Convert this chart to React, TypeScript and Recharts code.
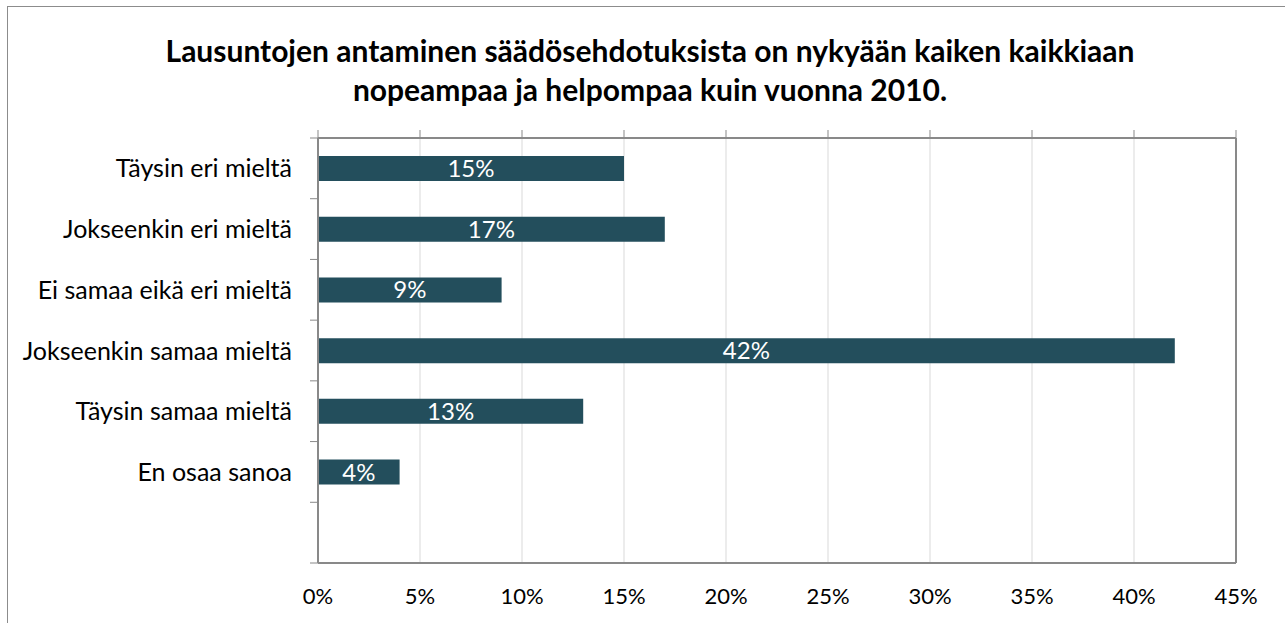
import React from 'react';
import {
	Bar,
	CartesianGrid,
	ComposedChart,
	LabelList,
	Line,
	ReferenceLine,
	XAxis,
	YAxis,
} from 'recharts';

const categories = [
	'Täysin eri mieltä',
	'Jokseenkin eri mieltä',
	'Ei samaa eikä eri mieltä',
	'Jokseenkin samaa mieltä',
	'Täysin samaa mieltä',
	'En osaa sanoa',
	'',
];
const shares = [15, 17, 9, 42, 13, 4, null];
const percentTicks = [0, 5, 10, 15, 20, 25, 30, 35, 40, 45];

const titleLines = [
	'Lausuntojen antaminen säädösehdotuksista on nykyään kaiken kaikkiaan',
	'nopeampaa ja helpompaa kuin vuonna 2010.',
];

const data = categories.map((name, i) => ({ name, value: shares[i] }));

const FONT = 'Lato, "Noto Sans", sans-serif';
const AXIS_GRAY = '#898989';
const CAT_MARGIN = 26;
const MARK = 8;

// draws only the tick line, no label
const NoLabel = () => <g />;

// category label plus Excel-style tick marks on the band edges
const CategoryTick = (props: any) => {
	const { x, y, payload, index } = props;
	const half = payload?.offset ?? 0;
	const axisX = x + CAT_MARGIN;
	const isLast = index === categories.length - 1;
	return (
		<g>
			<line
				x1={axisX - MARK}
				x2={axisX}
				y1={y - half}
				y2={y - half}
				stroke={AXIS_GRAY}
			/>
			{isLast && (
				<line
					x1={axisX - MARK}
					x2={axisX}
					y1={y + half}
					y2={y + half}
					stroke={AXIS_GRAY}
				/>
			)}
			<text
				x={x}
				y={y}
				dy="0.36em"
				textAnchor="end"
				fontSize={25}
				fontFamily={FONT}
				fill="#000">
				{payload.value}
			</text>
		</g>
	);
};

const App: React.FC = () => {
	return (
		<div
			style={{
				position: 'absolute',
				left: 7,
				top: 6,
				width: 1284,
				height: 640,
				border: '1px solid #8c8c8c',
				background: '#fff',
				fontFamily: FONT,
			}}>
			<div
				style={{
					position: 'absolute',
					top: 24,
					left: 0,
					width: '100%',
					textAlign: 'center',
					fontWeight: 700,
					fontSize: 30,
					lineHeight: '39px',
					color: '#000',
				}}>
				{titleLines.map((t) => (
					<div key={t}>{t}</div>
				))}
			</div>
			<div style={{ position: 'absolute', left: 0, top: 0 }}>
				<ComposedChart
					width={1277}
					height={616}
					data={data}
					layout="vertical"
					barCategoryGap={0}
					margin={{ top: 121, right: 49, left: 0, bottom: 10 }}>
					<CartesianGrid
						horizontal={false}
						stroke="#d9d9d9"
						strokeWidth={1}
					/>
					<XAxis
						type="number"
						domain={[0, 45]}
						ticks={percentTicks}
						tickFormatter={(v) => `${v}%`}
						axisLine={{ stroke: AXIS_GRAY, strokeWidth: 2 }}
						tickLine={false}
						tickSize={0}
						tickMargin={25}
						height={50}
						tick={{ fontSize: 22, fill: '#000', fontFamily: FONT }}
					/>
					<XAxis
						xAxisId="top"
						orientation="top"
						type="number"
						domain={[0, 45]}
						ticks={percentTicks}
						axisLine={{ stroke: AXIS_GRAY, strokeWidth: 2 }}
						tickLine={{ stroke: AXIS_GRAY, strokeWidth: 1 }}
						tickSize={MARK}
						tick={NoLabel}
						height={10}
					/>
					<YAxis
						type="category"
						dataKey="name"
						width={310}
						axisLine={{ stroke: AXIS_GRAY, strokeWidth: 2 }}
						tickLine={false}
						tickSize={0}
						tickMargin={CAT_MARGIN}
						interval={0}
						tick={CategoryTick}
					/>
					<ReferenceLine
						x={45}
						stroke={AXIS_GRAY}
						strokeWidth={2}
						ifOverflow="extendDomain"
					/>
					<Bar
						dataKey="value"
						barSize={25}
						fill="#234e5c"
						isAnimationActive={false}>
						<LabelList
							dataKey="value"
							position="center"
							formatter={(v: number) => (v == null ? '' : `${v}%`)}
							fill="#fff"
							style={{ fontSize: 24, fontFamily: FONT }}
						/>
					</Bar>
					{/* invisible series so the top axis gets its ticks */}
					<Line
						xAxisId="top"
						dataKey="value"
						stroke="none"
						dot={false}
						activeDot={false}
						isAnimationActive={false}
					/>
				</ComposedChart>
			</div>
		</div>
	);
};

export default App;
